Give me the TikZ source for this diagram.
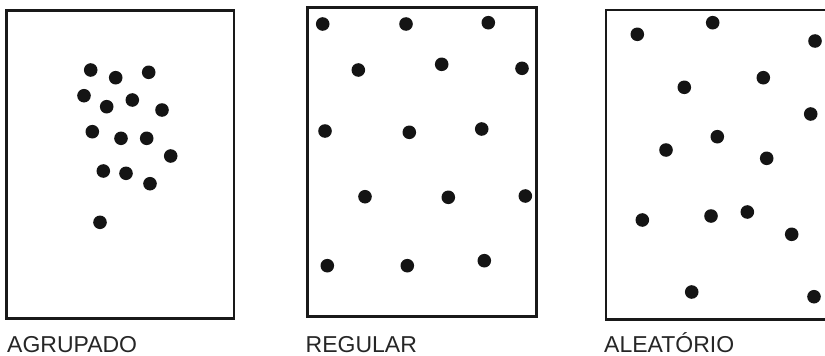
\documentclass[tikz,border=0pt]{standalone}
\usepackage{fontspec}
\setmainfont{Liberation Sans}
\begin{document}
\begin{tikzpicture}[x=1pt,y=-1pt,
  panel/.style={draw=black!90, line width=2.6pt},
  dot/.style={fill=black!92},
  lbl/.style={anchor=base west, inner sep=0pt, text depth=0pt, font=\fontsize{23}{26}\selectfont, text=black!85}]
\useasboundingbox (0,0) rectangle (825,356);
% panels
\begin{scope}
\clip (0,0) rectangle (825,356);
\draw[panel] (6.5,10.3) rectangle (233.8,318.3);
\draw[panel] (307.5,7.7) rectangle (536.2,316.5);
\draw[panel] (605.8,10) rectangle (830,319.5);
\end{scope}
% AGRUPADO
\foreach \x/\y in {90.7/70, 115.7/77.7, 148.7/72.3, 84/95.7, 106.7/106.7, 132.3/100, 162/110,
  92.3/131.7, 121/138.3, 146.7/138.3, 170.7/156, 103.3/171, 126/173.3, 150/183.7, 100/222.3}
  \fill[dot] (\x,\y) circle (6.8);
% REGULAR
\foreach \x/\y in {322.7/24, 406/24, 488.3/22.7, 358.3/70, 441.7/64.3, 522/68.3,
  325/131, 409.3/132.3, 481.7/129, 365/196.7, 448.3/197.3, 525.3/196,
  327.3/265.7, 407.3/265.7, 484.3/260.7}
  \fill[dot] (\x,\y) circle (6.8);
% ALEATORIO
\foreach \x/\y in {637.3/34.3, 712.7/22.7, 815/41, 684.3/87.3, 763.3/77.7, 810.7/114,
  717.3/136.7, 666/150, 766.7/158.3, 642.3/220, 711/216, 747.3/212, 791.7/234.3,
  691.7/292, 814/296.7}
  \fill[dot] (\x,\y) circle (6.8);
% labels
\node[lbl] (l1) at (7,352.5) {AGRUPADO};
\node[lbl] (l2) at (305.5,352.5) {REGULAR};
\node[lbl] (l3) at (604,352.5) {ALEATÓRIO};
\end{tikzpicture}
\end{document}
